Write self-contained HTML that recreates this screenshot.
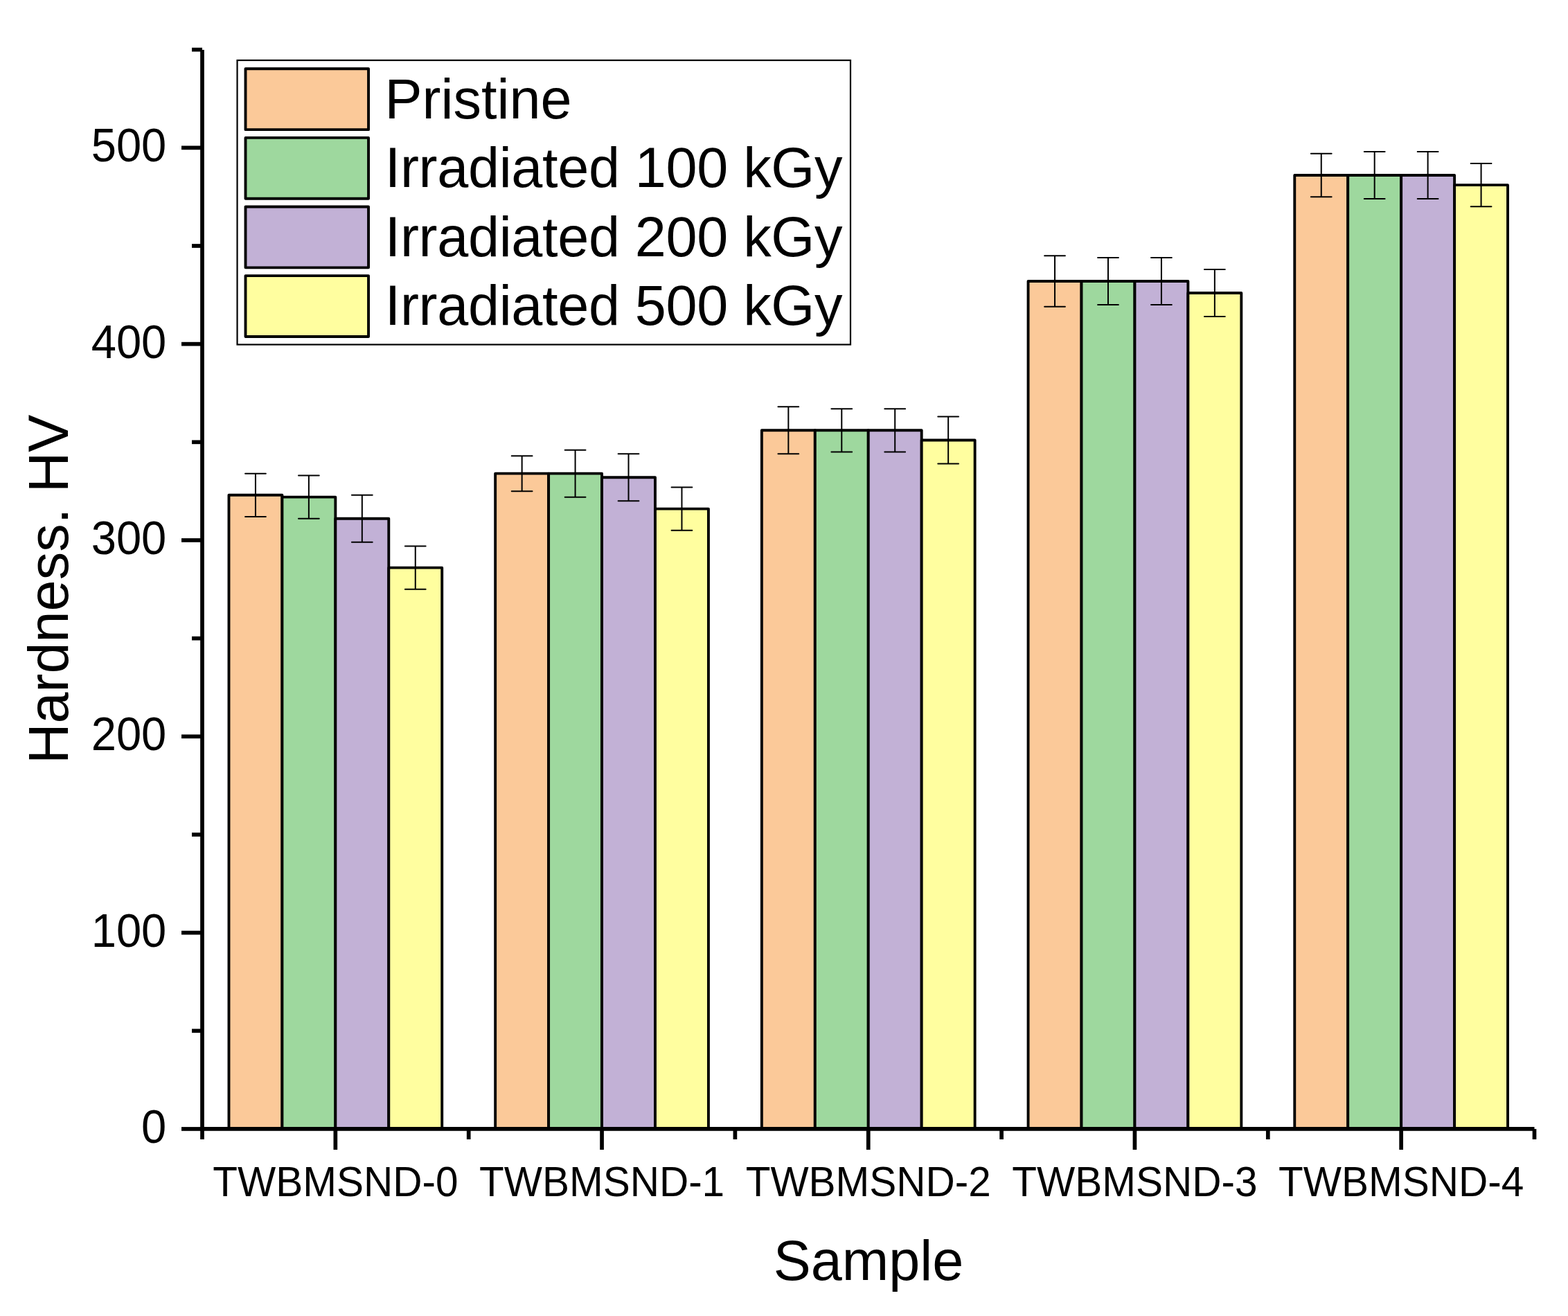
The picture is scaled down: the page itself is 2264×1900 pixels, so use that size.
<!DOCTYPE html>
<html><head><meta charset="utf-8"><title>Hardness chart</title>
<style>html,body{margin:0;padding:0;background:#fff;width:2264px;height:1900px;overflow:hidden}
svg{display:block;font-family:"Liberation Sans",Arial,sans-serif;fill:#000}</style></head>
<body><svg width="2264" height="1900" viewBox="0 0 2264 1900">
<rect width="2264" height="1900" fill="#fff"/>
<g stroke="#000" stroke-width="3.9" stroke-linejoin="round">
<rect x="330.47" y="714.81" width="76.94" height="915.13" fill="#FBC999"/>
<rect x="407.41" y="717.64" width="76.94" height="912.3" fill="#9ED89E"/>
<rect x="484.35" y="748.81" width="76.94" height="881.13" fill="#C2B1D6"/>
<rect x="561.29" y="819.64" width="76.94" height="810.3" fill="#FFFE9F"/>
<rect x="715.17" y="683.64" width="76.94" height="946.3" fill="#FBC999"/>
<rect x="792.11" y="683.64" width="76.94" height="946.3" fill="#9ED89E"/>
<rect x="869.05" y="689.31" width="76.94" height="940.63" fill="#C2B1D6"/>
<rect x="945.99" y="734.64" width="76.94" height="895.3" fill="#FFFE9F"/>
<rect x="1099.87" y="621.31" width="76.94" height="1008.63" fill="#FBC999"/>
<rect x="1176.81" y="621.31" width="76.94" height="1008.63" fill="#9ED89E"/>
<rect x="1253.75" y="621.31" width="76.94" height="1008.63" fill="#C2B1D6"/>
<rect x="1330.69" y="635.48" width="76.94" height="994.46" fill="#FFFE9F"/>
<rect x="1484.57" y="405.99" width="76.94" height="1223.95" fill="#FBC999"/>
<rect x="1561.51" y="405.99" width="76.94" height="1223.95" fill="#9ED89E"/>
<rect x="1638.45" y="405.99" width="76.94" height="1223.95" fill="#C2B1D6"/>
<rect x="1715.39" y="422.99" width="76.94" height="1206.95" fill="#FFFE9F"/>
<rect x="1869.27" y="253" width="76.94" height="1376.94" fill="#FBC999"/>
<rect x="1946.21" y="253" width="76.94" height="1376.94" fill="#9ED89E"/>
<rect x="2023.15" y="253" width="76.94" height="1376.94" fill="#C2B1D6"/>
<rect x="2100.09" y="267.16" width="76.94" height="1362.78" fill="#FFFE9F"/>
</g>
<g stroke="#000" stroke-width="2" stroke-linecap="round" fill="none">
<path d="M368.94 683.64V745.98M354.04 683.64H383.84M354.04 745.98H383.84"/>
<path d="M445.88 686.48V748.81M430.98 686.48H460.78M430.98 748.81H460.78"/>
<path d="M522.82 714.81V782.81M507.92 714.81H537.72M507.92 782.81H537.72"/>
<path d="M599.76 788.47V850.8M584.86 788.47H614.66M584.86 850.8H614.66"/>
<path d="M753.64 658.15V709.14M738.74 658.15H768.54M738.74 709.14H768.54"/>
<path d="M830.58 649.65V717.64M815.68 649.65H845.48M815.68 717.64H845.48"/>
<path d="M907.52 655.31V723.31M892.62 655.31H922.42M892.62 723.31H922.42"/>
<path d="M984.46 703.48V765.81M969.56 703.48H999.36M969.56 765.81H999.36"/>
<path d="M1138.34 587.32V655.31M1123.44 587.32H1153.24M1123.44 655.31H1153.24"/>
<path d="M1215.28 590.15V652.48M1200.38 590.15H1230.18M1200.38 652.48H1230.18"/>
<path d="M1292.22 590.15V652.48M1277.32 590.15H1307.12M1277.32 652.48H1307.12"/>
<path d="M1369.16 601.48V669.48M1354.26 601.48H1384.06M1354.26 669.48H1384.06"/>
<path d="M1523.04 369.16V442.82M1508.14 369.16H1537.94M1508.14 442.82H1537.94"/>
<path d="M1599.98 371.99V439.99M1585.08 371.99H1614.88M1585.08 439.99H1614.88"/>
<path d="M1676.92 371.99V439.99M1662.02 371.99H1691.82M1662.02 439.99H1691.82"/>
<path d="M1753.86 388.99V456.99M1738.96 388.99H1768.76M1738.96 456.99H1768.76"/>
<path d="M1907.74 221.83V284.16M1892.84 221.83H1922.64M1892.84 284.16H1922.64"/>
<path d="M1984.68 219V286.99M1969.78 219H1999.58M1969.78 286.99H1999.58"/>
<path d="M2061.62 219V286.99M2046.72 219H2076.52M2046.72 286.99H2076.52"/>
<path d="M2138.56 236V298.33M2123.66 236H2153.46M2123.66 298.33H2153.46"/>
</g>
<g stroke="#000" stroke-width="5.7" fill="none" stroke-linecap="butt">
<path d="M292 72V1632.79"/>
<path d="M289.15 1629.94H2215.5"/>
<path d="M262 1629.94H292"/>
<path d="M277 1488.28H292"/>
<path d="M262 1346.62H292"/>
<path d="M277 1204.96H292"/>
<path d="M262 1063.3H292"/>
<path d="M277 921.64H292"/>
<path d="M262 779.97H292"/>
<path d="M277 638.31H292"/>
<path d="M262 496.65H292"/>
<path d="M277 354.99H292"/>
<path d="M262 213.33H292"/>
<path d="M277 71.67H292"/>
<path d="M292 1629.94V1644.94"/>
<path d="M676.7 1629.94V1644.94"/>
<path d="M1061.4 1629.94V1644.94"/>
<path d="M1446.1 1629.94V1644.94"/>
<path d="M1830.8 1629.94V1644.94"/>
<path d="M2215.5 1629.94V1644.94"/>
<path d="M484.35 1629.94V1659.94"/>
<path d="M869.05 1629.94V1659.94"/>
<path d="M1253.75 1629.94V1659.94"/>
<path d="M1638.45 1629.94V1659.94"/>
<path d="M2023.15 1629.94V1659.94"/>
</g>
<g font-size="65.1" text-anchor="end">
<text transform="translate(240.3 1649.94) scale(1 1.05)">0</text>
<text transform="translate(240.3 1366.62) scale(1 1.05)">100</text>
<text transform="translate(240.3 1083.3) scale(1 1.05)">200</text>
<text transform="translate(240.3 799.97) scale(1 1.05)">300</text>
<text transform="translate(240.3 516.65) scale(1 1.05)">400</text>
<text transform="translate(240.3 233.33) scale(1 1.05)">500</text>
</g>
<g font-size="58.5" text-anchor="middle">
<text transform="translate(484.35 1727) scale(1 1.04)">TWBMSND-0</text>
<text transform="translate(869.05 1727) scale(1 1.04)">TWBMSND-1</text>
<text transform="translate(1253.75 1727) scale(1 1.04)">TWBMSND-2</text>
<text transform="translate(1638.45 1727) scale(1 1.04)">TWBMSND-3</text>
<text transform="translate(2023.15 1727) scale(1 1.04)">TWBMSND-4</text>
</g>
<rect x="342.54" y="87.04" width="885.46" height="410.46" fill="#fff" stroke="#000" stroke-width="2.2"/>
<g stroke="#000" stroke-width="3.9" stroke-linejoin="round">
<rect x="354.5" y="99.29" width="177.54" height="87.85" fill="#FBC999"/>
<rect x="354.5" y="198.89" width="177.54" height="87.85" fill="#9ED89E"/>
<rect x="354.5" y="298.49" width="177.54" height="87.85" fill="#C2B1D6"/>
<rect x="354.5" y="398.09" width="177.54" height="87.85" fill="#FFFE9F"/>
</g>
<g font-size="81">
<text transform="translate(555.4 170.84) scale(1 1)">Pristine</text>
<text transform="translate(555.8 269.8) scale(1 1)" textLength="660.7" lengthAdjust="spacing">Irradiated 100 kGy</text>
<text transform="translate(555.8 369.8) scale(1 1)" textLength="660.7" lengthAdjust="spacing">Irradiated 200 kGy</text>
<text transform="translate(555.8 468.8) scale(1 1)" textLength="660.7" lengthAdjust="spacing">Irradiated 500 kGy</text>
</g>
<text font-size="81" transform="translate(98 1103) rotate(-90) scale(1 1)">Hardness. HV</text>
<text font-size="81" text-anchor="middle" transform="translate(1254 1847.9) scale(1 1)">Sample</text>
</svg></body></html>
